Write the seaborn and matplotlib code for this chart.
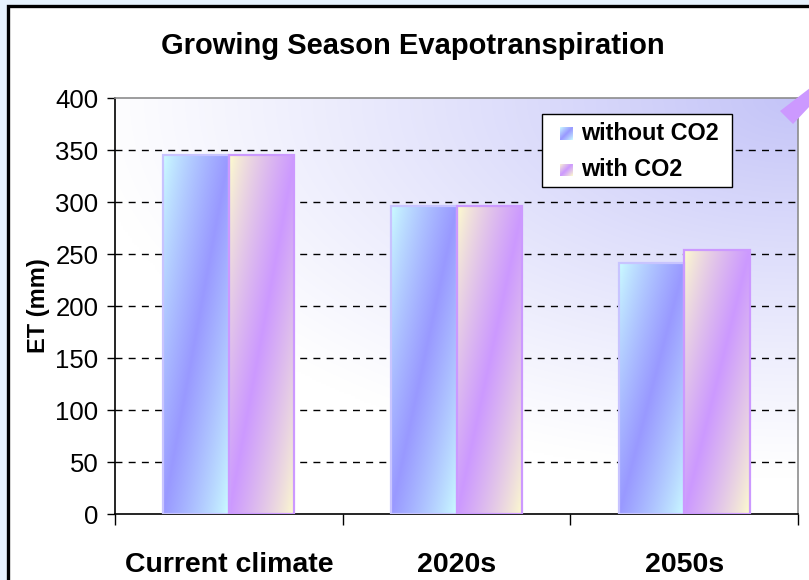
import numpy as np
import pandas as pd
import matplotlib
matplotlib.use("Agg")
import matplotlib.pyplot as plt
import seaborn as sns
from matplotlib.colors import to_rgb
from matplotlib.patches import Rectangle, Polygon

# ---- data ----
periods = ["Current climate", "2020s", "2050s"]
without_co2 = [345, 296, 241]
with_co2 = [345, 296, 254]
series = ["without CO2", "with CO2"]
yticks = [0, 50, 100, 150, 200, 250, 300, 350, 400]

df = pd.DataFrame({
    "period": periods * 2,
    "ET": without_co2 + with_co2,
    "scenario": [series[0]] * 3 + [series[1]] * 3,
})

# light / dark ends of each bar's diagonal gradient, and edge colours
grad = {
    series[0]: ("#ccffff", "#9999ff", "#c8c4ff"),
    series[1]: ("#ffffcc", "#cc99ff", "#cc99ff"),
}

sns.set_theme(style="white")
plt.rcParams["font.family"] = ["Liberation Sans", "DejaVu Sans"]
plt.rcParams["text.color"] = "black"
plt.rcParams["xtick.color"] = "black"
plt.rcParams["ytick.color"] = "black"
plt.rcParams["axes.labelcolor"] = "black"

W, H = 809, 580
fig = plt.figure(figsize=(W / 100, H / 100), dpi=100)
fig.patch.set_facecolor("#e6f2fd")


def fx(px):
    return px / W


def fy(py):
    return 1 - py / H


# white chart area with black frame
fig.patches.append(Rectangle((fx(8), -0.2), 1.2, fy(6) + 0.2,
                             transform=fig.transFigure, facecolor="white",
                             edgecolor="black", linewidth=2.4, zorder=-5))

ax = fig.add_axes([fx(115), fy(514), fx(798 - 115), (514 - 98) / H])

# plot-area wash: white toward bottom-left, lavender toward the top-right corner
xx, yy = np.meshgrid(np.linspace(0, 1, 300), np.linspace(0, 1, 200))
d = np.sqrt((1 - xx) ** 2 + ((1 - yy) * 1.15) ** 2)
t = np.clip(1 - d / 1.05, 0, 1) ** 1.1
c0 = np.array(to_rgb("#ffffff"))
c1 = np.array(to_rgb("#c4c4f8"))
bg = c0 * (1 - t[..., None]) + c1 * t[..., None]
ax.imshow(bg, extent=(0, 1, 0, 1), origin="lower", transform=ax.transAxes,
          aspect="auto", zorder=0, interpolation="bilinear")
ax.set_facecolor("white")

sns.barplot(data=df, x="period", y="ET", hue="scenario", order=periods,
            hue_order=series, width=0.575, ax=ax, legend=False,
            palette=[grad[s][1] for s in series], saturation=1, zorder=3)


def diag_gradient(light, dark, n=120, m=240):
    gx, gy = np.meshgrid(np.linspace(0, 1, n), np.linspace(0, 1, m))
    tt = np.clip(1 - np.abs(gx + gy - 1), 0, 1) ** 0.8
    lc, dc = np.array(to_rgb(light)), np.array(to_rgb(dark))
    return lc * (1 - tt[..., None]) + dc * tt[..., None]


# diagonal "centre" gradient inside every bar
for i, sname in enumerate(series):
    light, dark, edge = grad[sname]
    img = diag_gradient(light, dark)
    for p in ax.containers[i].patches:
        x0, w, h = p.get_x(), p.get_width(), p.get_height()
        im = ax.imshow(img, extent=(x0, x0 + w, 0, h), origin="upper",
                       aspect="auto", zorder=3.5, interpolation="bilinear")
        im.set_clip_path(p)
        p.set_facecolor("none")
        p.set_edgecolor(edge)
        p.set_linewidth(1.6)
        p.set_zorder(4)

ax.set_xlim(-0.5, 2.5)
ax.set_ylim(0, 400)

# dashed horizontal gridlines
for v in yticks[1:-1]:
    ax.axhline(v, color="black", lw=1.0, dashes=(5, 4.5), zorder=1)

ax.set_yticks(yticks)
ax.set_yticklabels([str(v) for v in yticks], fontsize=18.5)
ax.tick_params(axis="y", length=6, width=1, color="black", pad=6, left=True,
               direction="out", labelcolor="black")
ax.set_xticks(range(len(periods)))
ax.set_xticklabels(periods, fontsize=20.5, fontweight="bold")
ax.tick_params(axis="x", length=0, pad=27, labelcolor="black")
ax.set_xticks([-0.5, 0.5, 1.5, 2.5], minor=True)
ax.tick_params(axis="x", which="minor", length=8, width=1, color="black",
               bottom=True, direction="out")
ax.set_xlabel("")
ax.set_ylabel("ET (mm)", fontsize=17, fontweight="bold", labelpad=4,
              color="black")

for side in ("left", "bottom"):
    ax.spines[side].set_color("black")
    ax.spines[side].set_linewidth(1.2)
for side in ("top", "right"):
    ax.spines[side].set_visible(True)
    ax.spines[side].set_color("#8c8c8c")
    ax.spines[side].set_linewidth(1.2)

fig.text(fx(413), fy(46), "Growing Season Evapotranspiration", fontsize=21,
         fontweight="bold", ha="center", va="center", color="black")

# legend box with gradient swatches
fig.patches.append(Rectangle((fx(542), fy(187)), fx(732 - 542), (187 - 114) / H,
                             transform=fig.transFigure, facecolor="white",
                             edgecolor="black", linewidth=1.0, zorder=8))
for k, (sname, ty) in enumerate(zip(series, (133, 170))):
    light, dark, edge = grad[sname]
    sax = fig.add_axes([fx(560), fy(ty + 6.5), fx(13), 13 / H], zorder=9)
    sax.imshow(diag_gradient(light, dark, 20, 20), aspect="auto",
               interpolation="bilinear")
    sax.set_axis_off()
    fig.text(fx(581), fy(ty), sname, fontsize=16.8, fontweight="bold",
             ha="left", va="center", zorder=9, color="black")

# purple slide accent at the top right
fig.patches.append(Polygon([(fx(780), fy(111)), (fx(793), fy(124)),
                            (fx(810), fy(106)), (fx(810), fy(88))],
                           closed=True, transform=fig.transFigure,
                           facecolor="#cc99ff", edgecolor="none", zorder=10))

fig.savefig("out.png", dpi=100, facecolor=fig.get_facecolor())
